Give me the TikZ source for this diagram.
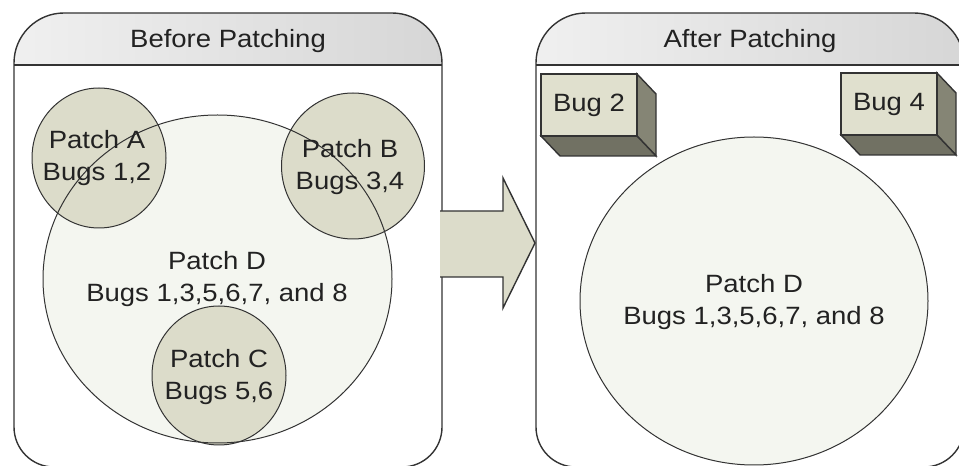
\documentclass[tikz,border=0pt]{standalone}
\usepackage{fontspec}
\setmainfont{Liberation Sans}[FakeStretch=1.1]
\definecolor{patchfill}{HTML}{DCDCCA}
\definecolor{patchd}{HTML}{F4F6F0}
\definecolor{boxfront}{HTML}{E0E0CE}
\definecolor{boxside}{HTML}{858575}
\definecolor{linegray}{HTML}{333333}
\definecolor{textgray}{HTML}{222222}

\begin{document}
\begin{tikzpicture}[x=1pt, y=1pt,
	every node/.style={font=\fontsize{25}{32}\selectfont, text=textgray, align=center},
	outline/.style={draw=linegray, line width=1.4pt},
	thinline/.style={draw=linegray, line width=1pt}]

	\def\panelw{428}
	\def\headlow{401}
	\def\paneltop{453}
	\def\rtop{50}
	\def\rbot{40}

	\def\boxw{96}
	\def\boxh{62}
	\def\depthx{19}
	\def\depthy{20}

	\useasboundingbox (0,0) rectangle (959,466);

	\foreach \px/\ttl/\nm in {14/Before Patching/before, 536/After Patching/after} {
		\shade[left color=gray!12, right color=gray!32] (\px,\headlow) -- (\px,\paneltop-\rtop) arc[start angle=180, end angle=90, radius=\rtop] -- (\px+\panelw-\rtop,\paneltop) arc[start angle=90, end angle=0, radius=\rtop] -- (\px+\panelw,\headlow) -- cycle;
		\draw[outline] (\px,\headlow) -- (\px+\panelw,\headlow);
		\draw[outline] (\px,\paneltop-\rtop) arc[start angle=180, end angle=90, radius=\rtop] -- (\px+\panelw-\rtop,\paneltop) arc[start angle=90, end angle=0, radius=\rtop] -- (\px+\panelw,\rbot-1) arc[start angle=0, end angle=-90, radius=\rbot] -- (\px+\rbot,-1) arc[start angle=270, end angle=180, radius=\rbot] -- cycle;
		\node[anchor=base] (\nm) at (\px+\panelw/2,418) {\ttl};
	}

	\fill[patchd] (217.5,187) ellipse [x radius=174.5, y radius=164];
	\foreach \cx/\cy/\rx/\ry in {99/308/67/70, 353/300/71.5/73, 219/90.5/67/69.5}
		\filldraw[fill=patchfill, thinline] (\cx,\cy) ellipse [x radius=\rx, y radius=\ry];
	\draw[thinline] (217.5,187) ellipse [x radius=174.5, y radius=164];

	\node (patchA) at (97,307.5) {Patch A\\Bugs 1,2};
	\node (patchB) at (350,298.5) {Patch B\\Bugs 3,4};
	\node (patchC) at (219,89) {Patch C\\Bugs 5,6};
	\node (patchD) at (217,186.5) {Patch D\\Bugs 1,3,5,6,7, and 8};

	\fill[patchfill] (440,255) -- (503,255) -- (503,288) -- (535,223) -- (503,158) -- (503,189) -- (440,189) -- cycle;
	\draw[outline] (440,255) -- (503,255) -- (503,288) -- (535,223) -- (503,158) -- (503,189) -- (440,189);

	\foreach \bx/\by/\lbl/\nm in {541/392/Bug 2/bugtwo, 841/393/Bug 4/bugfour} {
		\filldraw[fill=boxside, outline] (\bx+\boxw,\by) -- (\bx+\boxw+\depthx,\by-\depthy) -- (\bx+\boxw+\depthx,\by-\boxh-\depthy) -- (\bx+\boxw,\by-\boxh) -- cycle;
		\filldraw[fill=boxside!85!black, outline] (\bx,\by-\boxh) -- (\bx+\boxw,\by-\boxh) -- (\bx+\boxw+\depthx,\by-\boxh-\depthy) -- (\bx+\depthx,\by-\boxh-\depthy) -- cycle;
		\node[outline, fill=boxfront, minimum width=\boxw, minimum height=\boxh, inner sep=0pt] (\nm) at (\bx+\boxw/2,\by-\boxh/2) {\lbl};
	}

	\filldraw[fill=patchd, thinline] (754,165) ellipse [x radius=174, y radius=164];
	\node (afterD) at (754,163.5) {Patch D\\Bugs 1,3,5,6,7, and 8};

\end{tikzpicture}
\end{document}
